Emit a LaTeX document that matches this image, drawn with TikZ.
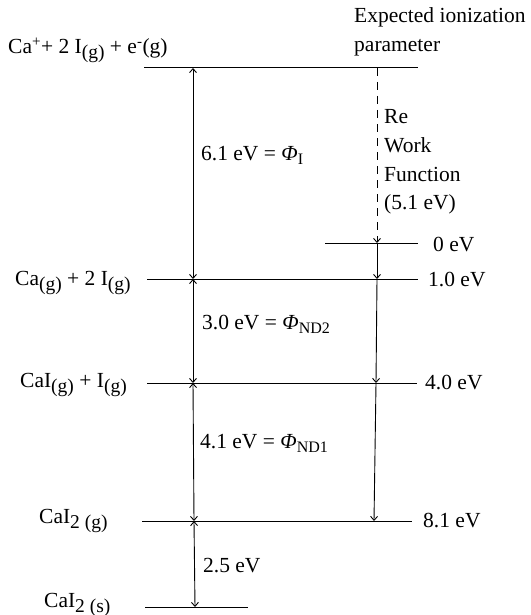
\documentclass[tikz,border=0pt]{standalone}
\usepackage{fontspec}
\setmainfont{Liberation Serif}
\usetikzlibrary{arrows.meta}
\newcommand{\lowsub}[1]{\raisebox{-5pt}{\fontsize{19.5}{19.5}\selectfont #1}}
\newcommand{\phisub}[1]{\raisebox{-4pt}{\fontsize{16}{16}\selectfont #1}}
\begin{document}
\begin{tikzpicture}[x=1pt,y=-1pt,
  lvl/.style={line width=1pt},
  lab/.style={anchor=base west, inner sep=0pt, font=\fontsize{21.5}{25}\selectfont},
  tip/.tip={Straight Barb[length=4pt,width=7pt,line width=0.9pt]},
  dbl/.style={line width=0.9pt, tip-tip},
  sgl/.style={line width=0.9pt, -tip},
  dsh/.style={line width=0.9pt, dash pattern=on 8pt off 6pt, -tip}]
\useasboundingbox (0,0) rectangle (530,615);
% level end points
\coordinate (topL) at (144,68);   \coordinate (topR) at (418,68);
\coordinate (zeroL) at (325,243); \coordinate (zeroR) at (418,243);
\coordinate (oneL) at (147,279);  \coordinate (oneR) at (418,279);
\coordinate (fourL) at (147,383); \coordinate (fourR) at (417,383);
\coordinate (eightL) at (142,521);\coordinate (eightR) at (412,521);
\coordinate (solL) at (145,607);  \coordinate (solR) at (248,607);
% arrow end points
\coordinate (a1) at (193,68);  \coordinate (a2) at (193,279);
\coordinate (a3) at (193,383); \coordinate (a4) at (194,521);
\coordinate (a5) at (195,607);
\coordinate (r0) at (377,68);  \coordinate (r1) at (377,243);
\coordinate (r2) at (377,279); \coordinate (r3) at (376,383);
\coordinate (r4) at (374,521);
% levels
\draw[lvl] (topL) -- (topR);
\draw[lvl] (zeroL) -- (zeroR);
\draw[lvl] (oneL) -- (oneR);
\draw[lvl] (fourL) -- (fourR);
\draw[lvl] (eightL) -- (eightR);
\draw[lvl] (solL) -- (solR);
% left arrows
\draw[dbl] (a1) -- (a2);
\draw[dbl] (a2) -- (a3);
\draw[dbl] (a3) -- (a4);
\draw[dbl] (a4) -- (a5);
% right arrows
\draw[dsh] (r0) -- (r1);
\draw[sgl] (r1) -- (r2);
\draw[sgl] (r2) -- (r3);
\draw[sgl] (r3) -- (r4);
% labels
\node[lab] (ltop) at (8,54) {Ca\textsuperscript{+}+ 2 I\lowsub{(g)} + e\textsuperscript{-}(g)};
\node[lab] (lexp) at (354,23) {Expected ionization};
\node[lab] (lpar) at (354,52) {parameter};
\node[lab] (lre) at (384,123) {Re};
\node[lab] (lwork) at (384,152) {Work};
\node[lab] (lfun) at (384,181) {Function};
\node[lab] (lval) at (384,209) {(5.1 eV)};
\node[lab] (l61) at (201,160) {6.1 eV = \textit{Φ}\phisub{I}};
\node[lab] (l30) at (202,329) {3.0 eV = \textit{Φ}\phisub{ND2}};
\node[lab] (l41) at (200,448) {4.1 eV = \textit{Φ}\phisub{ND1}};
\node[lab] (l25) at (203,572) {2.5 eV};
\node[lab] (e0) at (433,251) {0 eV};
\node[lab] (e1) at (428,286) {1.0 eV};
\node[lab] (e4) at (425,389) {4.0 eV};
\node[lab] (e8) at (423,527) {8.1 eV};
\node[lab] (lca) at (15,285) {Ca\lowsub{(g)} + 2 I\lowsub{(g)}};
\node[lab] (lcai) at (20,387) {CaI\lowsub{(g)} + I\lowsub{(g)}};
\node[lab] (lcai2g) at (39,523) {CaI\lowsub{2 (g)}};
\node[lab] (lcai2s) at (44,607) {CaI\lowsub{2 (s)}};
\end{tikzpicture}
\end{document}
